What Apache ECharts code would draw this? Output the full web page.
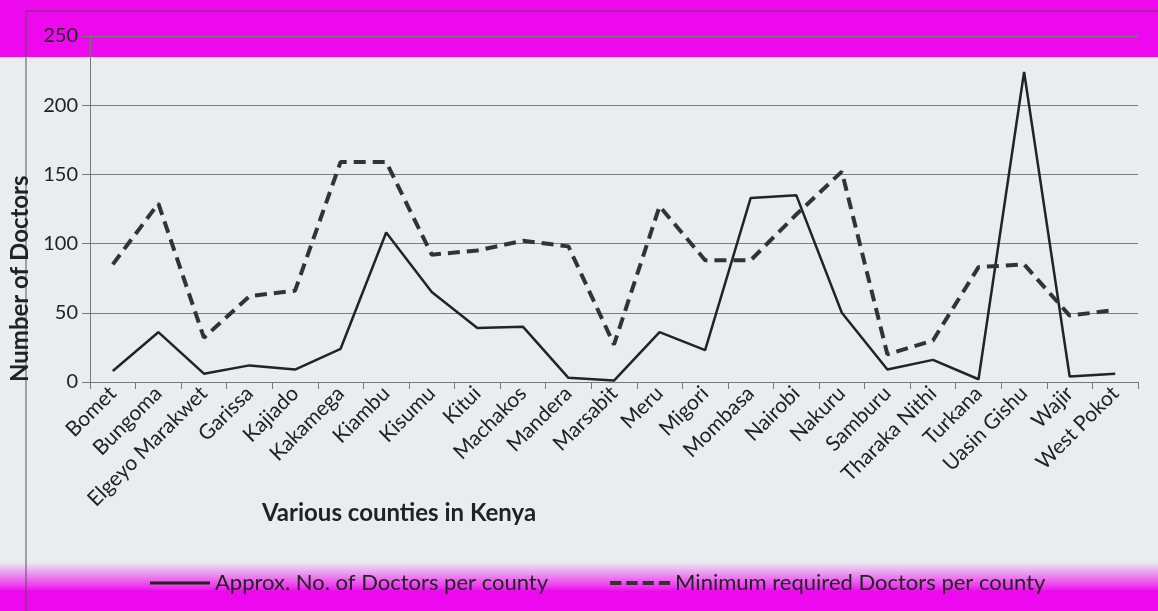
<!DOCTYPE html>
<html>
<head>
<meta charset="utf-8">
<script src="https://cdn.jsdelivr.net/npm/echarts@6/dist/echarts.min.js"></script>
<style>
html,body{margin:0;padding:0;background:#e9edf0;}
#c{width:1158px;height:611px;}
</style>
</head>
<body>
<div id="c"></div>
<script>
const counties = ["Bomet","Bungoma","Elgeyo Marakwet","Garissa","Kajiado","Kakamega","Kiambu","Kisumu","Kitui","Machakos","Mandera","Marsabit","Meru","Migori","Mombasa","Nairobi","Nakuru","Samburu","Tharaka Nithi","Turkana","Uasin Gishu","Wajir","West Pokot"];
const approxDoctors = [8,36,6,12,9,24,108,65,39,40,3,1,36,23,133,135,50,9,16,2,224,4,6];
const minRequired = [85,129,32,62,66,159,159,92,95,102,98,27,127,88,88,121,152,20,30,83,85,48,52];
const yTicks = [0,50,100,150,200,250];
const seriesNames = ["Approx. No. of Doctors per county","Minimum required Doctors per county"];

const FONT = "Lato";
const chart = echarts.init(document.getElementById('c'), null, {renderer:'canvas'});
chart.setOption({
  backgroundColor: '#e9edf0',
  animation: false,
  textStyle: {fontFamily: FONT},
  graphic: [
    {type:'rect', z:-10, shape:{x:0,y:0,width:1158,height:57}, style:{fill:'#ee08ee'}},
    {type:'rect', z:-10, shape:{x:0,y:562,width:1158,height:49},
      style:{fill:{type:'linear',x:0,y:0,x2:0,y2:1,colorStops:[
        {offset:0,color:'rgba(238,8,238,0)'},
        {offset:0.5,color:'rgba(238,8,238,0.8)'},
        {offset:0.6,color:'#ee08ee'},
        {offset:1,color:'#ee08ee'}]}}},
    {type:'line', z:-5, shape:{x1:26,y1:11,x2:1158,y2:11}, style:{stroke:'#6a3a6a',lineWidth:1}},
    {type:'line', z:-5, shape:{x1:26,y1:11,x2:26,y2:611}, style:{stroke:'#555',lineWidth:1}},
    {type:'text', left:262, top:501, style:{text:'Various counties in Kenya', font:'bold 24px '+FONT, fill:'#222'}},
    {type:'text', x:8, y:382, rotation:Math.PI/2, style:{text:'Number of Doctors', font:'bold 24px '+FONT, fill:'#222', textAlign:'left', textVerticalAlign:'top'}}
  ],
  grid: {left:90, right:20, top:36, bottom:229},
  legend: {
    left:145, top:567, itemWidth:60, itemHeight:12, itemGap:62,
    textStyle:{fontSize:22, color:'#222', fontFamily:FONT},
    data:[
      {name:seriesNames[0], icon:'path://M0,4.5 L60,4.5 L60,7.5 L0,7.5 Z'},
      {name:seriesNames[1], icon:'path://M0,4h11v4h-11z M16,4h11v4h-11z M32,4h11v4h-11z M48,4h11v4h-11z'}
    ]
  },
  xAxis: {
    type:'category', data:counties, boundaryGap:true,
    axisLine:{show:true, lineStyle:{color:'#777', width:1}},
    axisTick:{show:true, length:7, lineStyle:{color:'#777'}},
    axisLabel:{rotate:45, fontSize:21, color:'#222', interval:0, margin:8, fontFamily:FONT}
  },
  yAxis: {
    type:'value', min:0, max:250, interval:50,
    axisLine:{show:true, lineStyle:{color:'#777'}},
    axisTick:{show:true, length:8, lineStyle:{color:'#777'}},
    axisLabel:{fontSize:20, color:'#222', margin:12, fontFamily:FONT,
      formatter: v => yTicks.includes(v) ? String(v) : ''},
    splitLine:{show:true, lineStyle:{color:'#7d7d7d', width:1}}
  },
  series: [
    {name:seriesNames[0], type:'line', data:approxDoctors, symbol:'none',
      lineStyle:{color:'#232323', width:2.5, type:'solid'}, itemStyle:{color:'#232323'}},
    {name:seriesNames[1], type:'line', data:minRequired, symbol:'none',
      lineStyle:{color:'#333', width:4, type:[12,7]}, itemStyle:{color:'#333'}}
  ]
});
</script>
</body>
</html>
